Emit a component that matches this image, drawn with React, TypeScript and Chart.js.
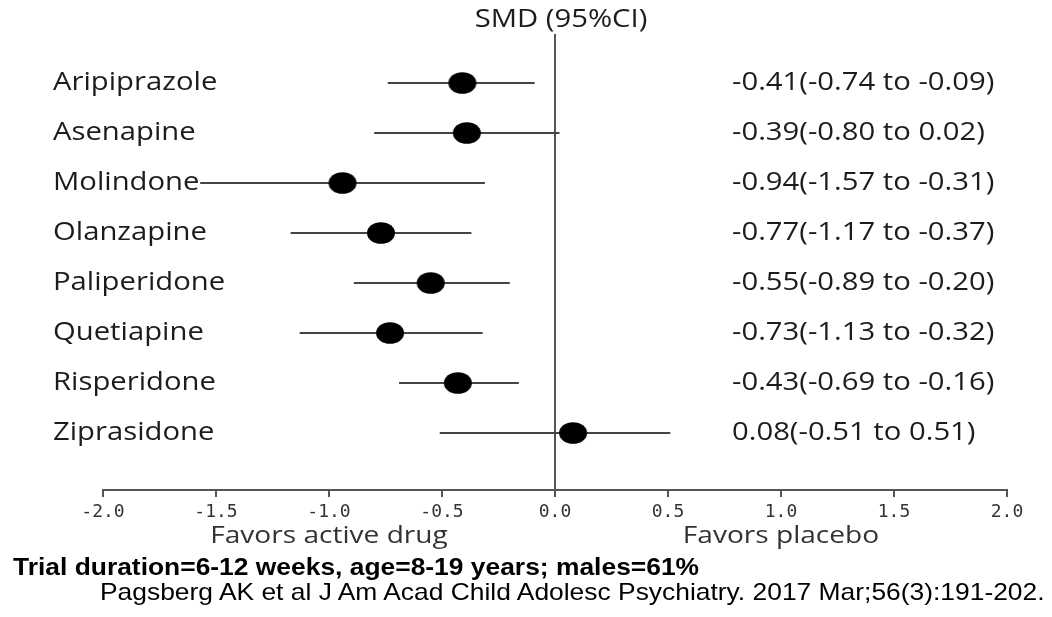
import { useEffect, useRef } from "react";
import { Chart, registerables } from "chart.js";

Chart.register(...registerables);

// Standardised mean differences with 95% confidence intervals
const drugs = [
  "Aripiprazole",
  "Asenapine",
  "Molindone",
  "Olanzapine",
  "Paliperidone",
  "Quetiapine",
  "Risperidone",
  "Ziprasidone",
];
const smd = [-0.41, -0.39, -0.94, -0.77, -0.55, -0.73, -0.43, 0.08];
const ciLow = [-0.74, -0.8, -1.57, -1.17, -0.89, -1.13, -0.69, -0.51];
const ciHigh = [-0.09, 0.02, -0.31, -0.37, -0.2, -0.32, -0.16, 0.51];
const xTickValues = [-2, -1.5, -1, -0.5, 0, 0.5, 1, 1.5, 2];

const title = "SMD (95%CI)";
const favorsLeft = "Favors active drug";
const favorsRight = "Favors placebo";
const footnote = "Trial duration=6-12 weeks, age=8-19 years; males=61%";
const citation =
  "Pagsberg AK et al J Am Acad Child Adolesc Psychiatry. 2017 Mar;56(3):191-202.";

const LABEL_FONT = "'Open Sans', 'DejaVu Sans', sans-serif";
const TICK_FONT = "'DejaVu Sans Mono', 'Liberation Mono', monospace";
const STRETCH = 1.17;

const summary = smd.map(
  (v, i) => `${v.toFixed(2)}(${ciLow[i].toFixed(2)} to ${ciHigh[i].toFixed(2)})`
);

function makeEllipse(): HTMLCanvasElement {
  const c = document.createElement("canvas");
  c.width = 30;
  c.height = 24;
  const g = c.getContext("2d")!;
  g.fillStyle = "#000";
  g.beginPath();
  g.ellipse(15, 12, 14, 10.8, 0, 0, Math.PI * 2);
  g.fill();
  return c;
}

// Draws text widened horizontally around its anchor
function wideText(
  ctx: CanvasRenderingContext2D,
  text: string,
  x: number,
  y: number,
  align: CanvasTextAlign
) {
  ctx.save();
  ctx.translate(x, y);
  ctx.scale(STRETCH, 1);
  ctx.textAlign = align;
  ctx.fillText(text, 0, 0);
  ctx.restore();
}

const textPlugin = {
  id: "forestText",
  afterDraw(chart: any) {
    const { ctx } = chart;
    const x = chart.scales.x;
    const y = chart.scales.y;
    ctx.save();
    ctx.textBaseline = "middle";
    ctx.fillStyle = "#1c1c1c";
    ctx.font = `25px ${LABEL_FONT}`;
    drugs.forEach((d, i) => {
      const py = y.getPixelForValue(i + 1);
      wideText(ctx, d, 53, py, "left");
      wideText(ctx, summary[i], 732, py, "left");
    });
    wideText(ctx, title, x.getPixelForValue(0) + 6, 20, "center");
    ctx.fillStyle = "#333";
    ctx.font = `24px ${LABEL_FONT}`;
    wideText(ctx, favorsLeft, x.getPixelForValue(-1), 536, "center");
    wideText(ctx, favorsRight, x.getPixelForValue(1), 536, "center");
    ctx.restore();
  },
};

export default function App() {
  const ref = useRef<HTMLCanvasElement | null>(null);

  useEffect(() => {
    document.body.style.margin = "0";
    const dot = makeEllipse();
    const bars = drugs.map((d, i) => ({
      type: "line" as const,
      label: d,
      data: [
        { x: ciLow[i], y: i + 1 },
        { x: ciHigh[i], y: i + 1 },
      ],
      borderColor: "#444",
      borderWidth: 2,
      pointRadius: 0,
      fill: false,
    }));
    const chart = new Chart(ref.current!, {
      type: "scatter",
      data: {
        datasets: [
          {
            label: "SMD",
            data: smd.map((v, i) => ({ x: v, y: i + 1 })),
            pointStyle: dot as any,
            backgroundColor: "#000",
          },
          ...bars,
        ] as any,
      },
      options: {
        animation: false,
        responsive: false,
        layout: { padding: { left: 103, right: 45, top: 34, bottom: 87 } },
        plugins: {
          legend: { display: false },
          tooltip: { enabled: false },
          title: { display: false },
        },
        scales: {
          x: {
            type: "linear",
            min: -2,
            max: 2,
            afterBuildTicks: (s: any) => {
              s.ticks = xTickValues.map((v) => ({ value: v }));
            },
            afterFit: (s: any) => {
              s.height = 40;
            },
            border: { display: true, color: "#555", width: 2 },
            grid: {
              drawOnChartArea: true,
              color: (c: any) => (c.tick && c.tick.value === 0 ? "#555" : "rgba(0,0,0,0)"),
              lineWidth: 2,
              drawTicks: true,
              tickLength: 7,
              tickColor: "#555",
              tickWidth: 2,
            },
            ticks: {
              color: "#333",
              font: { family: TICK_FONT, size: 18 },
              padding: 5,
              maxRotation: 0,
              callback: (v: any) => Number(v).toFixed(1),
            },
          },
          y: {
            type: "linear",
            display: false,
            reverse: true,
            min: 0.02,
            max: 9.14,
          },
        },
      },
      plugins: [textPlugin],
    });
    return () => chart.destroy();
  }, []);

  const footStyle = {
    position: "absolute" as const,
    fontFamily: "'Liberation Sans', Arial, sans-serif",
    fontSize: 24,
    color: "#000",
    whiteSpace: "nowrap" as const,
    lineHeight: "28px",
    transform: "scaleX(1.1)",
    transformOrigin: "left center",
  };

  return (
    <div style={{ position: "relative", width: 1052, height: 617, background: "#fff" }}>
      <canvas ref={ref} width={1052} height={617} style={{ display: "block" }} />
      <div style={{ ...footStyle, left: 13, top: 553, fontWeight: "bold" }}>{footnote}</div>
      <div style={{ ...footStyle, left: 100, top: 578 }}>{citation}</div>
    </div>
  );
}
